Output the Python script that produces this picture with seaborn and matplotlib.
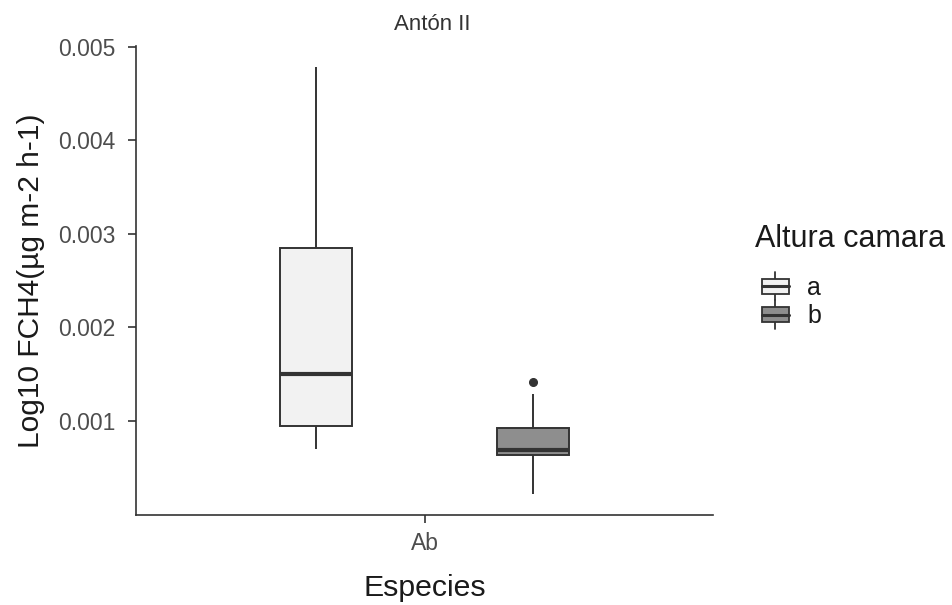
import numpy as np
import pandas as pd
import matplotlib
matplotlib.use("Agg")
import matplotlib.pyplot as plt
from matplotlib.patches import Patch, Rectangle
from matplotlib.lines import Line2D
from matplotlib.legend_handler import HandlerBase
import seaborn as sns

# Flux samples per chamber height (Log10 FCH4), species "Ab", site Antón II
species = ["Ab"]
heights = ["a", "b"]
flux_a = [0.000698, 0.000947, 0.001501, 0.002853, 0.004779]
flux_b = [0.000225, 0.000500, 0.000640, 0.000670, 0.000691,
          0.000800, 0.000922, 0.001288, 0.001419]
fill_colors = ["#F2F2F2", "#8E8E8E"]
y_ticks = [0.001, 0.002, 0.003, 0.004, 0.005]
y_ticklabels = ["0.001", "0.002", "0.003", "0.004", "0.005"]

df = pd.DataFrame({
    "Especies": [species[0]] * (len(flux_a) + len(flux_b)),
    "Altura camara": [heights[0]] * len(flux_a) + [heights[1]] * len(flux_b),
    "FCH4": flux_a + flux_b,
})

sns.set_theme(style="white")
plt.rcParams["font.family"] = ["Liberation Sans", "DejaVu Sans"]

W, H = 952, 605
fig = plt.figure(figsize=(W / 100, H / 100), dpi=100)
px_l, px_r, px_t, px_b = 136, 713, 46, 515
ax = fig.add_axes([px_l / W, 1 - px_b / H, (px_r - px_l) / W, (px_b - px_t) / H])

line_c = "#333333"
sns.boxplot(
    data=df, x="Especies", y="FCH4", hue="Altura camara",
    hue_order=heights, palette=fill_colors, ax=ax,
    width=0.9, gap=2 / 3, dodge=True, showcaps=False, whis=1.5,
    linecolor=line_c, linewidth=1.4,
    medianprops=dict(color=line_c, linewidth=3.0),
    flierprops=dict(marker="o", markerfacecolor=line_c, markeredgecolor=line_c,
                    markersize=5.5),
    legend=False,
)

ax.set_xlim(-0.6, 0.6)
lo, hi = min(flux_a + flux_b), max(flux_a + flux_b)
pad = (hi - lo) * 0.05
ax.set_ylim(lo - pad, hi + pad)
ax.set_yticks(y_ticks)
ax.set_yticklabels(y_ticklabels)

for s in ["top", "right"]:
    ax.spines[s].set_visible(False)
for s in ["left", "bottom"]:
    ax.spines[s].set_color("#333333")
    ax.spines[s].set_linewidth(1.2)
ax.tick_params(axis="both", which="major", length=6, width=1.2, color="#333333",
               labelsize=16.5, labelcolor="#4D4D4D", left=True, bottom=True)
ax.tick_params(axis="y", pad=9)
ax.tick_params(axis="x", pad=6)

ax.set_xlabel("Especies", fontsize=21.8, color="#1A1A1A", labelpad=14)
ax.set_ylabel("Log10 FCH4(µg m-2 h-1)", fontsize=21.5, color="#1A1A1A", labelpad=9)

fig.text(432 / W, 1 - 24 / H, "Antón II", ha="center", va="center",
         fontsize=16, color="#333333")


class BoxKeyHandler(HandlerBase):
    """Legend key drawn as a small boxplot glyph."""
    def create_artists(self, legend, orig_handle, xdescent, ydescent,
                       width, height, fontsize, trans):
        x0, y0 = -xdescent, -ydescent
        fc = orig_handle.get_facecolor()
        left = x0 + width * 0.2
        right = x0 + width * 0.97
        box_b = y0 + height * 0.2
        box_t = y0 + height * 0.8
        rect = Rectangle((left, box_b), right - left, box_t - box_b,
                         facecolor=fc, edgecolor=line_c, linewidth=1.3,
                         transform=trans)
        cx = (left + right) / 2
        ym = y0 + height / 2
        med = Line2D([left, right], [ym, ym],
                     color=line_c, linewidth=2.2, transform=trans)
        w1 = Line2D([cx, cx], [y0 - 1, box_b], color=line_c,
                    linewidth=1.3, transform=trans)
        w2 = Line2D([cx, cx], [box_t, y0 + height + 1], color=line_c,
                    linewidth=1.3, transform=trans)
        return [w1, w2, rect, med]


handles = [Patch(facecolor=c, edgecolor=line_c) for c in fill_colors]
leg = fig.legend(
    handles, heights, title="Altura camara",
    loc="upper left", bbox_to_anchor=(755 / W, 1 - 224 / H),
    frameon=False, fontsize=18, title_fontsize=22,
    handler_map={Patch: BoxKeyHandler()},
    handlelength=1.4, handleheight=1.2, handletextpad=0.7,
    labelspacing=0.08, borderaxespad=0, borderpad=0.0,
)
leg._legend_box.align = "left"
leg._legend_box.sep = 14
for t in leg.get_texts():
    t.set_color("#1A1A1A")
leg.get_title().set_color("#1A1A1A")

fig.savefig("out.png", dpi=100)
